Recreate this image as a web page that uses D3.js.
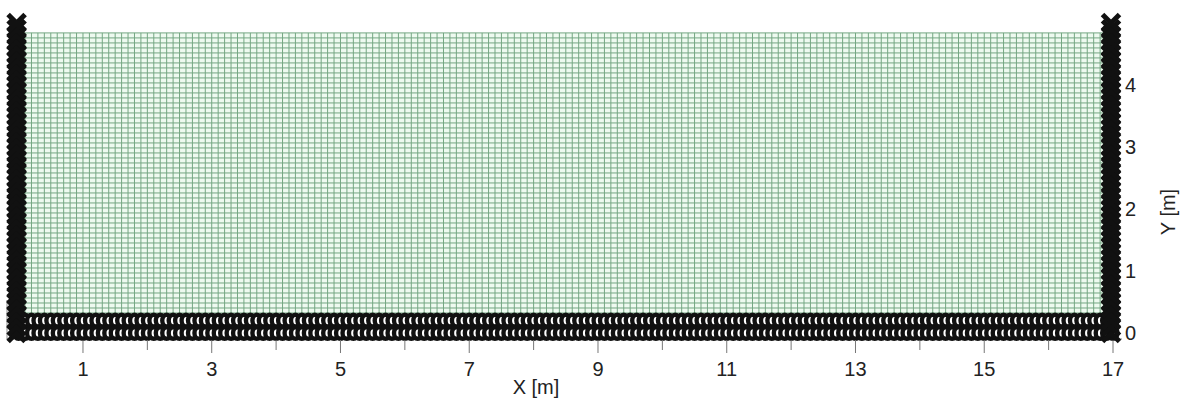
<!DOCTYPE html>
<html><head><meta charset="utf-8">
<script src="https://cdn.jsdelivr.net/npm/d3@7"></script>
<style>body{margin:0;background:#fff}svg{display:block}text{font-family:"Liberation Sans",Arial,sans-serif;fill:#222}</style>
</head><body><svg id="c" width="1186" height="399"></svg>
<script>
// ---- data ----
const xTickLabels = [1,3,5,7,9,11,13,15,17];
const xMinorTicks = [2,4,6,8,10,12,14,16];
const yTickLabels = [0,1,2,3,4];
const meshWidth = 17, meshHeight = 4.84;
const meshCols = 170, meshRows = 60;
const bottomRows = [0.2, 0.0];      // y of the two rows of bottom boundary nodes
const bottomStep = 0.1;             // spacing of bottom boundary nodes
const sideX = [0, 17];              // side boundaries
const sideTop = 5.05, sideStep = 0.1;
const xLabel = "X [m]", yLabel = "Y [m]";

// ---- scales ----
const svg = d3.select("#c");
const x = d3.scaleLinear().domain([0,17]).range([18.6,1113]);
const y = d3.scaleLinear().domain([0,4]).range([333,85]);

// mesh
const g = svg.append("g");
g.append("rect").attr("x",x(0)).attr("y",y(meshHeight)).attr("width",x(meshWidth)-x(0)).attr("height",y(0)-y(meshHeight)).attr("fill","#eefaf0");
const xs = d3.range(meshCols+1).map(i=>i*meshWidth/meshCols);
const ys = d3.range(meshRows+1).map(i=>i*meshHeight/meshRows);
g.selectAll("line.v").data(xs).join("line").attr("x1",d=>x(d)).attr("x2",d=>x(d)).attr("y1",y(0)).attr("y2",y(meshHeight)).attr("stroke","#74a682").attr("stroke-width",1);
g.selectAll("line.h").data(ys).join("line").attr("y1",d=>y(d)).attr("y2",d=>y(d)).attr("x1",x(0)).attr("x2",x(meshWidth)).attr("stroke","#74a682").attr("stroke-width",1);

// frame / axis lines
svg.append("line").attr("x1",7).attr("x2",1122).attr("y1",339).attr("y2",339).attr("stroke","#888").attr("stroke-width",1);
svg.append("line").attr("x1",7).attr("x2",7).attr("y1",300).attr("y2",339).attr("stroke","#888").attr("stroke-width",1);

// bottom boundary markers
const bx = d3.range(0, meshWidth+1e-6, bottomStep);
bottomRows.forEach(r=>{
  svg.append("g").selectAll("ellipse").data(bx).join("ellipse")
    .attr("cx",d=>x(d)).attr("cy",y(r)).attr("rx",4.4).attr("ry",5.8)
    .attr("fill","#fff").attr("stroke","#111").attr("stroke-width",4.4);
});

// side boundary markers (thick crosses)
const sy = d3.range(0, sideTop+1e-6, sideStep);
const cross = d3.symbol().type(d3.symbolX).size(190);
sideX.forEach(sx=>{
  svg.append("g").selectAll("path").data(sy).join("path")
    .attr("transform",d=>`translate(${x(sx)-2},${y(d)})`)
    .attr("d",cross).attr("fill","none").attr("stroke","#111").attr("stroke-width",5);
});

// x axis ticks
svg.append("g").selectAll("line").data(xTickLabels).join("line")
  .attr("x1",d=>x(d)).attr("x2",d=>x(d)).attr("y1",340).attr("y2",353).attr("stroke","#777");
svg.append("g").selectAll("line").data(xMinorTicks).join("line")
  .attr("x1",d=>x(d)).attr("x2",d=>x(d)).attr("y1",340).attr("y2",350).attr("stroke","#777");
svg.append("g").selectAll("text").data(xTickLabels).join("text")
  .attr("x",d=>x(d)).attr("y",376).attr("text-anchor","middle").attr("font-size",20).text(d=>d);
svg.append("g").selectAll("text").data(yTickLabels).join("text")
  .attr("x",1125).attr("y",d=>y(d)+7).attr("font-size",20).text(d=>d);
svg.append("text").attr("x",536).attr("y",394).attr("text-anchor","middle").attr("font-size",20).text(xLabel);
svg.append("text").attr("transform","translate(1175,212) rotate(-90)").attr("text-anchor","middle").attr("font-size",20).text(yLabel);
</script></body></html>
